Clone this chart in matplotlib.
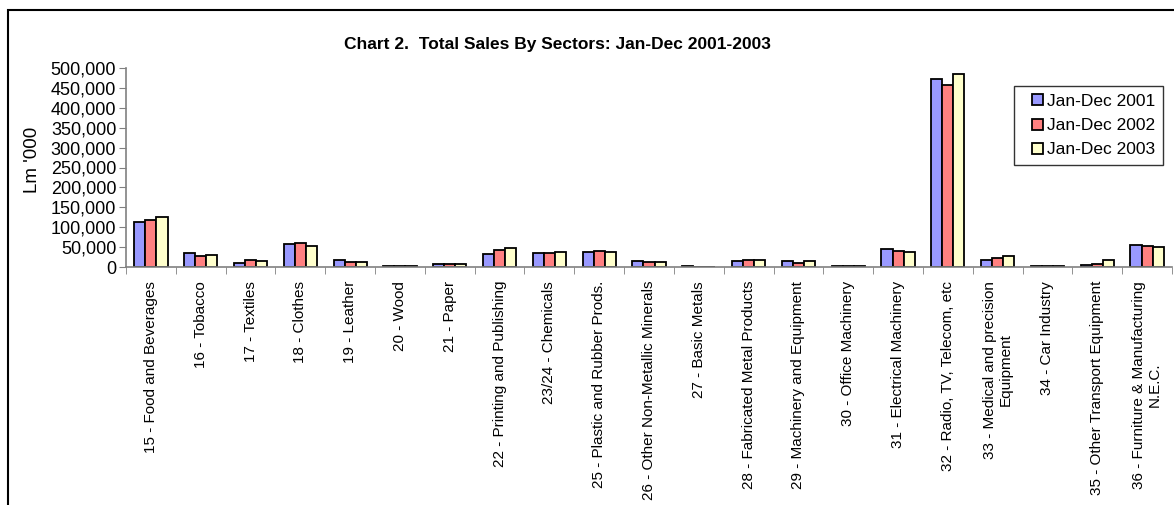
import numpy as np
import matplotlib
matplotlib.use('Agg')
import matplotlib.pyplot as plt
from matplotlib.patches import Rectangle
from matplotlib.legend_handler import HandlerPatch
from matplotlib.ticker import FuncFormatter

plt.rcParams['font.family'] = ['Liberation Sans', 'DejaVu Sans']

sectors = [
    '15 - Food and Beverages', '16 - Tobacco', '17 - Textiles', '18 - Clothes',
    '19 - Leather', '20 - Wood', '21 - Paper', '22 - Printing and Publishing',
    '23/24 - Chemicals', '25 - Plastic and Rubber Prods.',
    '26 - Other Non-Metallic Minerals', '27 - Basic Metals',
    '28 - Fabricated Metal Products', '29 - Machinery and Equipment',
    '30 - Office Machinery', '31 - Electrical Machinery',
    '32 - Radio, TV, Telecom, etc', '33 - Medical and precision\nEquipment',
    '34 - Car Industry', '35 - Other Transport Equipment',
    '36 - Furniture & Manufacturing\nN.E.C.',
]

sales_2001 = [113500, 35000, 10000, 58500, 16500, 2200, 8000, 33000, 35000, 38500,
              14000, 2500, 14000, 14000, 2500, 45000, 473500, 18500, 2000, 6000, 56000]
sales_2002 = [119000, 28500, 18500, 61000, 13500, 2000, 8000, 43000, 35000, 40000,
              13500, 0, 17500, 10000, 2000, 40000, 457500, 22500, 2000, 8500, 53500]
sales_2003 = [125000, 31000, 15000, 53500, 11500, 1800, 8000, 48500, 37500, 38500,
              13500, 0, 17000, 14000, 1800, 37500, 485000, 27500, 2000, 16500, 49000]

series = [('Jan-Dec 2001', sales_2001, '#9999FF'),
          ('Jan-Dec 2002', sales_2002, '#FF8080'),
          ('Jan-Dec 2003', sales_2003, '#FFFFCC')]

fig = plt.figure(figsize=(11.74, 5.05), dpi=100)
ax = fig.add_axes([126 / 1174, 1 - 267 / 505, (1172 - 126) / 1174, (267 - 68) / 505])

x = np.arange(len(sectors))
w = 1 / 4.5
handles = []
for i, (name, vals, col) in enumerate(series):
    bc = ax.bar(x + (i - 1) * w, vals, width=w, color=col, edgecolor='black',
                linewidth=1.3, label=name)
    handles.append(bc.patches[0])

ax.set_xlim(-0.5, len(sectors) - 0.5)
ax.set_ylim(0, 500000)
ax.set_yticks(np.arange(0, 500001, 50000))
ax.yaxis.set_major_formatter(FuncFormatter(lambda v, p: f'{int(v):,}'))
ax.tick_params(axis='y', labelsize=13, length=5, color='#808080', pad=2)

ax.set_xticks(x)
ax.set_xticklabels(sectors, rotation=90, fontsize=11, ha='center', va='top',
                   multialignment='center')
ax.tick_params(axis='x', which='major', length=0, pad=10)
ax.set_xticks(np.arange(-0.5, len(sectors), 1), minor=True)
ax.tick_params(axis='x', which='minor', length=5, color='#808080')

for s in ['top', 'right']:
    ax.spines[s].set_visible(False)
for s in ['left', 'bottom']:
    ax.spines[s].set_color('#808080')
    ax.spines[s].set_linewidth(1.2)

ax.set_ylabel("Lm '000", fontsize=13.5)
ax.yaxis.set_label_coords((41 - 126) / 1046, (267 - 160) / 199)

fig.text(557 / 1174, 1 - 44 / 505, 'Chart 2.  Total Sales By Sectors: Jan-Dec 2001-2003',
         fontsize=12.5, fontweight='bold', ha='center', va='center')


def square_handle(legend, orig_handle, xdescent, ydescent, width, height, fontsize):
    s = 11 * 72 / 100
    return Rectangle((-xdescent + width - s, -ydescent + (height - s) / 2), s, s)


leg = ax.legend(handles=handles, labels=[s[0] for s in series],
                loc='upper left', bbox_to_anchor=((1014 - 126) / 1046, (267 - 86) / 199),
                fontsize=12.5, frameon=True, fancybox=False, edgecolor='black',
                handlelength=1.2, handleheight=0.7, handletextpad=0.25,
                borderpad=0.45, labelspacing=0.52, borderaxespad=0,
                handler_map={Rectangle: HandlerPatch(patch_func=square_handle)})
leg.get_frame().set_linewidth(1.0)

fig.patches.append(Rectangle((8 / 1174, -0.1), 1.2, 1 - 10 / 505 + 0.1,
                             transform=fig.transFigure, fill=False,
                             edgecolor='black', linewidth=1.5))

fig.savefig('out.png', dpi=100)
